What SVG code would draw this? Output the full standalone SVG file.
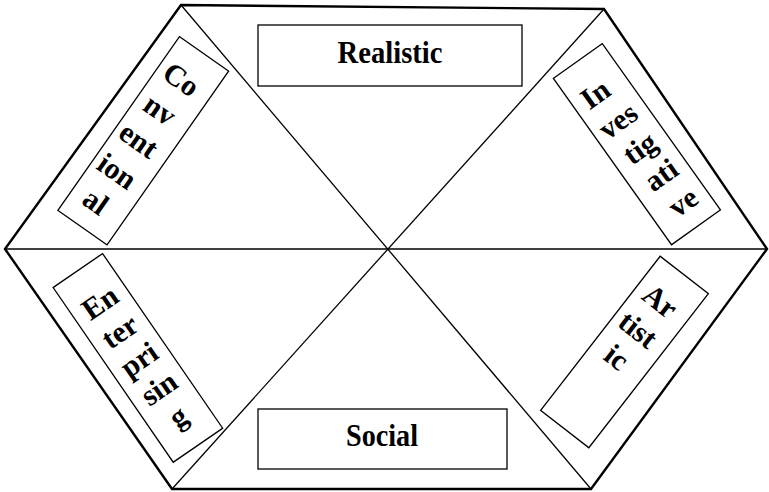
<svg xmlns="http://www.w3.org/2000/svg" width="769" height="492" viewBox="0 0 769 492">
<style>
.hex{fill:none;stroke:#000;stroke-width:2.4;stroke-linejoin:miter}
.div{fill:none;stroke:#000;stroke-width:1.3}
.box{fill:#fff;stroke:#000;stroke-width:1.3}
.lbl{font-family:"Liberation Serif","Times New Roman",serif;font-weight:bold;font-size:30px;fill:#000;text-anchor:middle}
.hl{font-size:31px}
</style>
<rect width="769" height="492" fill="#fff"/>
<g id="connectors">
<polygon class="hex" points="181,5 604,9 767,249 591,489 172,489 5,249"/>
<line class="div" x1="181" y1="5" x2="591" y2="489"/>
<line class="div" x1="604" y1="9" x2="172" y2="489"/>
<line class="div" x1="5" y1="249" x2="767" y2="249"/>
</g>
<g id="realistic">
<rect class="box" x="258" y="25" width="264" height="61"/>
<text class="lbl hl" x="390" y="63" textLength="105" lengthAdjust="spacingAndGlyphs">Realistic</text>
</g>
<g id="social">
<rect class="box" x="258" y="409" width="249" height="60"/>
<text class="lbl hl" x="382" y="446" textLength="72" lengthAdjust="spacingAndGlyphs">Social</text>
</g>
<g id="conventional" transform="translate(143.25,140.75) rotate(35)">
<rect class="box" x="-30" y="-106" width="60" height="212"/>
<text class="lbl" x="-4" y="-62">Co</text>
<text class="lbl" x="-4" y="-25">nv</text>
<text class="lbl" x="-4" y="12">ent</text>
<text class="lbl" x="-4" y="50">ion</text>
<text class="lbl" x="-4" y="87">al</text>
</g>
<g id="investigative" transform="translate(636.9,144.2) rotate(-35.4)">
<rect class="box" x="-30" y="-102" width="60" height="204"/>
<text class="lbl" x="-5" y="-55">In</text>
<text class="lbl" x="-2" y="-20">ves</text>
<text class="lbl" x="0" y="15">tig</text>
<text class="lbl" x="2" y="49">ati</text>
<text class="lbl" x="4" y="84">ve</text>
</g>
<g id="enterprising" transform="translate(137.9,357.9) rotate(-34.5)">
<rect class="box" x="-30" y="-106" width="60" height="212"/>
<text class="lbl" x="0" y="-57">En</text>
<text class="lbl" x="0" y="-22">ter</text>
<text class="lbl" x="0" y="12">pri</text>
<text class="lbl" x="0" y="47">sin</text>
<text class="lbl" x="0" y="81">g</text>
</g>
<g id="artistic" transform="translate(624.5,352) rotate(37.8)">
<rect class="box" x="-30.5" y="-97.5" width="61" height="195"/>
<text class="lbl" x="-3" y="-52">Ar</text>
<text class="lbl" x="-3" y="-16">tist</text>
<text class="lbl" x="-3" y="19">ic</text>
</g>
</svg>
